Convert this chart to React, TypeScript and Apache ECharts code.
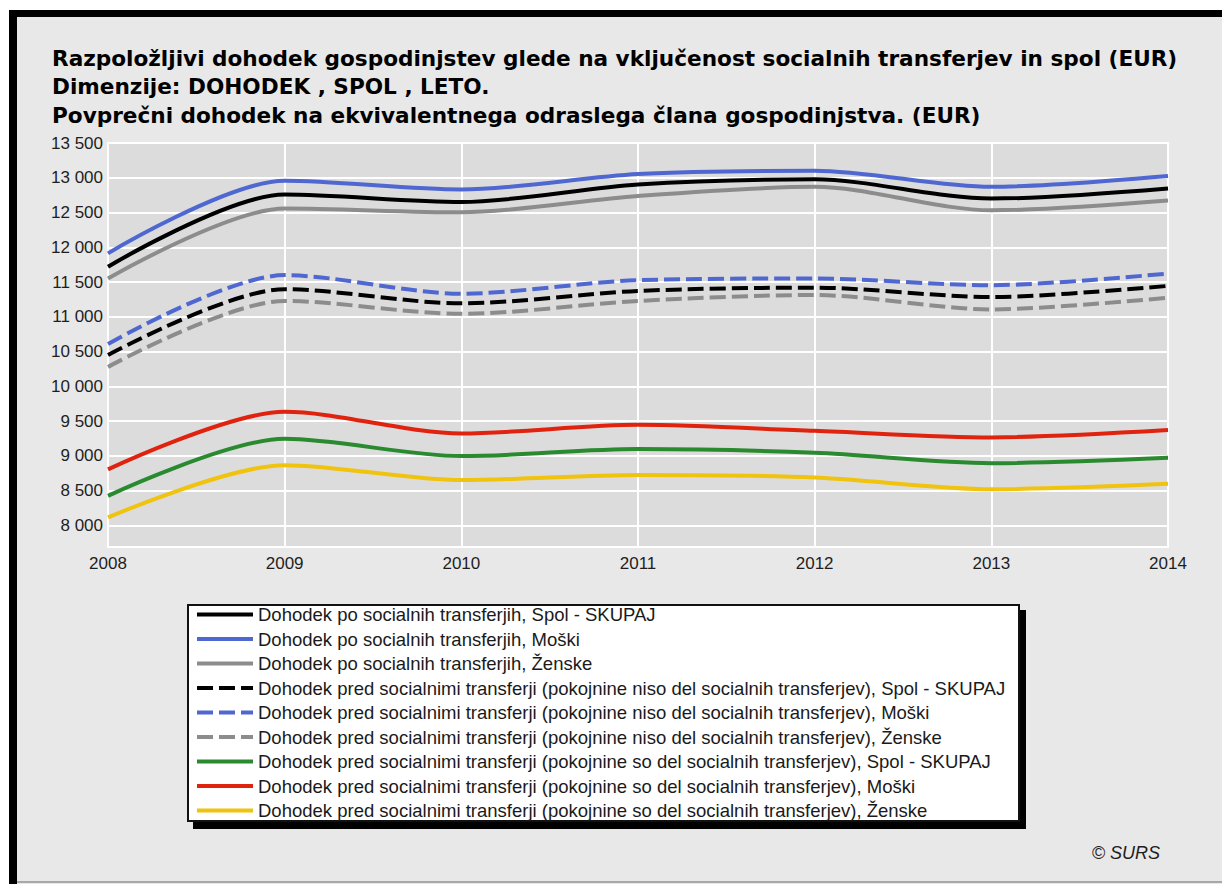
import React, { useEffect, useRef } from "react";
import * as echarts from "echarts";

const years = ["2008", "2009", "2010", "2011", "2012", "2013", "2014"];

const poSkupaj = [11720, 12759, 12652, 12904, 12977, 12701, 12846];
const poMoski = [11913, 12957, 12832, 13054, 13101, 12870, 13025];
const poZenske = [11551, 12557, 12503, 12739, 12870, 12532, 12672];
const predNisoSkupaj = [10450, 11397, 11194, 11372, 11420, 11285, 11445];
const predNisoMoski = [10610, 11600, 11333, 11527, 11551, 11455, 11623];
const predNisoZenske = [10280, 11228, 11043, 11228, 11314, 11107, 11275];
const predSoSkupaj = [8426, 9246, 8997, 9098, 9045, 8896, 8973];
const predSoMoski = [8806, 9634, 9323, 9447, 9361, 9266, 9371];
const predSoZenske = [8115, 8867, 8652, 8724, 8690, 8522, 8599];

const seriesNames = [
  "Dohodek po socialnih transferjih, Spol - SKUPAJ",
  "Dohodek po socialnih transferjih, Moški",
  "Dohodek po socialnih transferjih, Ženske",
  "Dohodek pred socialnimi transferji (pokojnine niso del socialnih transferjev), Spol - SKUPAJ",
  "Dohodek pred socialnimi transferji (pokojnine niso del socialnih transferjev), Moški",
  "Dohodek pred socialnimi transferji (pokojnine niso del socialnih transferjev), Ženske",
  "Dohodek pred socialnimi transferji (pokojnine so del socialnih transferjev), Spol - SKUPAJ",
  "Dohodek pred socialnimi transferji (pokojnine so del socialnih transferjev), Moški",
  "Dohodek pred socialnimi transferji (pokojnine so del socialnih transferjev), Ženske",
];
const seriesData = [
  poSkupaj, poMoski, poZenske,
  predNisoSkupaj, predNisoMoski, predNisoZenske,
  predSoSkupaj, predSoMoski, predSoZenske,
];
const seriesColors = [
  "#000000", "#4f67d1", "#8c8c8c",
  "#000000", "#4f67d1", "#8c8c8c",
  "#2a8a30", "#e0230f", "#f0c30f",
];
const seriesDashed = [false, false, false, true, true, true, false, false, false];

const titleLines = [
  "Razpoložljivi dohodek gospodinjstev glede na vključenost socialnih transferjev in spol (EUR)",
  "Dimenzije: DOHODEK , SPOL , LETO.",
  "Povprečni dohodek na ekvivalentnega odraslega člana gospodinjstva. (EUR)",
];
const copyright = "© SURS";

const FONT = '"Liberation Sans", Arial, sans-serif';
const TITLE_FONT = '"DejaVu Sans", Verdana, sans-serif';

function fmt(v: number): string {
  return String(Math.round(v)).replace(/\B(?=(\d{3})+(?!\d))/g, " ");
}

export default function App() {
  const ref = useRef<HTMLDivElement>(null);
  useEffect(() => {
    if (!ref.current) return;
    const chart = echarts.init(ref.current, undefined, { renderer: "svg" });
    const series = seriesNames.map((name, i) => ({
      name,
      type: "line",
      data: seriesData[i],
      smooth: 0.3,
      symbol: "none",
      lineStyle: {
        color: seriesColors[i],
        width: 4,
        type: seriesDashed[i] ? [16, 6] : "solid",
      },
      itemStyle: { color: seriesColors[i] },
      z: 3,
    }));
    chart.setOption({
      animation: false,
      backgroundColor: "#e8e8e8",
      grid: {
        left: 108,
        top: 143,
        right: 54,
        bottom: 337,
        show: true,
        backgroundColor: "#dcdcdc",
        borderColor: "#ffffff",
        borderWidth: 2,
      },
      xAxis: {
        type: "category",
        data: years,
        boundaryGap: false,
        axisLine: { show: false },
        axisTick: { show: false },
        axisLabel: {
          color: "#1e1e1e",
          fontFamily: FONT,
          fontSize: 17,
          margin: 8,
        },
        splitLine: { show: true, lineStyle: { color: "#ffffff", width: 2 } },
      },
      yAxis: {
        type: "value",
        min: 7690,
        max: 13500,
        splitNumber: 11,
        axisLine: { show: false },
        axisTick: { show: false },
        axisLabel: {
          color: "#1e1e1e",
          fontFamily: FONT,
          fontSize: 17,
          margin: 5,
          showMinLabel: false,
          formatter: (v: number) => fmt(v),
        },
        splitLine: { show: true, lineStyle: { color: "#ffffff", width: 2 } },
      },
      legend: {
        orient: "vertical",
        left: 195,
        top: 605,
        padding: 0,
        itemWidth: 56,
        itemHeight: 14,
        itemGap: 5.5,
        itemStyle: { opacity: 0 },
        lineStyle: { width: 4 },
        textStyle: { color: "#1a1a1a", fontFamily: FONT, fontSize: 18.5 },
        data: seriesNames,
        selectedMode: false,
      },
      graphic: [
        { type: "rect", z: 1, shape: { x: 0, y: 0, width: 1222, height: 10 }, style: { fill: "#ffffff" } },
        { type: "rect", z: 1, shape: { x: 0, y: 0, width: 9, height: 884 }, style: { fill: "#ffffff" } },
        { type: "rect", z: 1, shape: { x: 9, y: 10, width: 1213, height: 7 }, style: { fill: "#000000" } },
        { type: "rect", z: 1, shape: { x: 9, y: 10, width: 8, height: 874 }, style: { fill: "#000000" } },
        { type: "rect", z: 1, shape: { x: 17, y: 881, width: 1205, height: 2 }, style: { fill: "#a8a8a8" } },
        { type: "rect", z: 1, shape: { x: 193, y: 610, width: 833, height: 219 }, style: { fill: "#000000" } },
        {
          type: "rect", z: 2,
          shape: { x: 188, y: 605, width: 831, height: 216 },
          style: { fill: "#ffffff", stroke: "#111111", lineWidth: 2 },
        },
        ...titleLines.map((t, i) => ({
          type: "text",
          z: 2,
          style: {
            x: 52,
            y: 58 + i * 28.5,
            text: t,
            fill: "#000000",
            font: `bold 21.6px ${TITLE_FONT}`,
            verticalAlign: "middle",
          },
        })),
        {
          type: "text",
          z: 2,
          style: {
            x: 1160,
            y: 853,
            text: copyright,
            fill: "#1e1e1e",
            font: `italic 18px ${FONT}`,
            align: "right",
            verticalAlign: "middle",
          },
        },
      ],
      series,
    });
    return () => chart.dispose();
  }, []);
  return (
    <div
      ref={ref}
      style={{ position: "fixed", left: 0, top: 0, width: 1222, height: 884 }}
    />
  );
}
